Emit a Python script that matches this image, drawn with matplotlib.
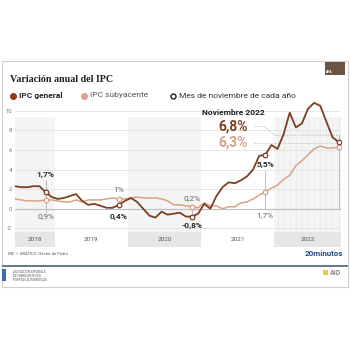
import matplotlib
matplotlib.use('Agg')
import matplotlib.pyplot as plt
from matplotlib.patches import Rectangle

# Monthly series, June 2018 .. November 2022
meses = ['jun-18', 'jul-18', 'ago-18', 'sep-18', 'oct-18', 'nov-18', 'dic-18',
         'ene-19', 'feb-19', 'mar-19', 'abr-19', 'may-19', 'jun-19', 'jul-19',
         'ago-19', 'sep-19', 'oct-19', 'nov-19', 'dic-19',
         'ene-20', 'feb-20', 'mar-20', 'abr-20', 'may-20', 'jun-20', 'jul-20',
         'ago-20', 'sep-20', 'oct-20', 'nov-20', 'dic-20',
         'ene-21', 'feb-21', 'mar-21', 'abr-21', 'may-21', 'jun-21', 'jul-21',
         'ago-21', 'sep-21', 'oct-21', 'nov-21', 'dic-21',
         'ene-22', 'feb-22', 'mar-22', 'abr-22', 'may-22', 'jun-22', 'jul-22',
         'ago-22', 'sep-22', 'oct-22', 'nov-22']

ipc_general = [2.3, 2.2, 2.2, 2.3, 2.3, 1.7, 1.2,
               1.0, 1.1, 1.3, 1.5, 0.8, 0.4, 0.5, 0.3, 0.1, 0.1, 0.4, 0.8,
               1.1, 0.7, 0.0, -0.7, -0.9, -0.3, -0.6, -0.5, -0.4, -0.8, -0.8, -0.5,
               0.5, 0.0, 1.3, 2.2, 2.7, 2.6, 2.9, 3.3, 4.0, 5.4, 5.5, 6.5,
               6.1, 7.6, 9.8, 8.3, 8.7, 10.2, 10.8, 10.5, 8.9, 7.3, 6.8]

ipc_subyacente = [1.0, 0.9, 0.8, 0.8, 0.8, 0.9, 0.9,
                  0.8, 0.7, 0.7, 0.9, 0.7, 0.9, 0.9, 0.9, 1.0, 1.1, 1.0, 1.0,
                  1.1, 1.2, 1.1, 1.1, 1.1, 1.0, 0.8, 0.4, 0.4, 0.3, 0.2, 0.1,
                  0.6, 0.3, 0.3, 0.0, 0.2, 0.2, 0.6, 0.7, 1.0, 1.4, 1.7, 2.1,
                  2.4, 3.0, 3.4, 4.4, 4.9, 5.5, 6.1, 6.4, 6.2, 6.2, 6.3]

years = ['2018', '2019', '2020', '2021', '2022']
yticks = [-2, 0, 2, 4, 6, 8, 10]

DARK = '#7b3f22'
LIGHT = '#dba189'
SANS = 'Roboto'

W = H = 350
fig = plt.figure(figsize=(3.5, 3.5), dpi=100)

# overlay in pixel coordinates for the card decorations
bg = fig.add_axes([0, 0, 1, 1])
bg.set_xlim(0, W)
bg.set_ylim(H, 0)
bg.axis('off')

bg.add_patch(Rectangle((2, 61), 346, 226, facecolor='white', edgecolor='#cfcfcf', lw=0.8))
bg.add_patch(Rectangle((325, 62), 20, 13, facecolor='#6b5544', edgecolor='none'))
bg.text(326, 73, 'AFA', fontsize=2.5, color='white', family=SANS, fontweight='bold')
bg.plot([3, 347], [266, 266], color='#4b5d75', lw=1.2)

bg.text(10, 80, 'Variación anual del IPC', fontsize=7.2, fontweight='bold',
        family='Liberation Serif', va='center', color='#1e1e1e')

# legend
bg.plot(13, 95.5, 'o', ms=4, color='#93391a')
bg.text(19, 95.5, 'IPC general', fontsize=6, fontweight='bold', family=SANS,
        va='center', color='#222222')
bg.plot(84, 95.5, 'o', ms=4, color='#e0a08a')
bg.text(90, 95.5, 'IPC subyacente', fontsize=6, family=SANS, va='center', color='#555555')
bg.plot(173, 95.5, 'o', ms=3.6, mfc='white', mec='#222222', mew=1.0)
bg.text(179, 95.5, 'Mes de noviembre de cada año', fontsize=6, family=SANS,
        va='center', color='#333333')

# footer
bg.text(8, 254, 'INE  |  GRÁFICO: Héctor de Pedro', fontsize=3, family=SANS,
        va='center', color='#555555')
bg.text(343, 254, '20minutos', fontsize=5.8, fontweight='bold', family=SANS,
        va='center', ha='right', color='#274a7a')
bg.add_patch(Rectangle((2, 269), 4, 12, facecolor='#3c6ea8', edgecolor='none'))
bg.text(13, 276, 'ASOCIACIÓN ESPAÑOLA\nDE FABRICANTES DE\nPUERTAS AUTOMÁTICAS',
        fontsize=2.2, family=SANS, va='center', color='#555555', linespacing=1.1)
bg.add_patch(Rectangle((323, 270), 5, 5, facecolor='#e8c84a', edgecolor='none'))
bg.text(330, 273, 'AID', fontsize=5, family=SANS, fontweight='bold', va='center',
        color='#8a8a8a')

# main chart
ax = fig.add_axes([15 / W, 1 - 247 / H, 326 / W, 151 / H])
ax.patch.set_alpha(0)
x = list(range(len(meses)))
xmax = 53.4
ax.set_xlim(0, xmax)
ax.set_ylim(-3.9, 11.5)
for s in ax.spines.values():
    s.set_visible(False)
ax.set_xticks([])
ax.set_yticks(yticks)
ax.set_yticklabels([str(t) for t in yticks], fontsize=4.2, color='#777777', family=SANS)
ax.tick_params(axis='y', length=0, pad=2)

# year bands
bounds = [0, 6.5, 18.5, 30.5, 42.5, xmax]
for k, yr in enumerate(years):
    x0, x1 = bounds[k], bounds[k + 1]
    if k % 2 == 0:
        ax.add_patch(Rectangle((x0, -2.4), x1 - x0, 11.8, facecolor='#f4f4f4',
                               edgecolor='none', zorder=0))
        ax.add_patch(Rectangle((x0, -3.9), x1 - x0, 1.5, facecolor='#e6e6e6',
                               edgecolor='none', zorder=0))
    ax.text((x0 + x1) / 2, -3.1, yr, fontsize=4.6, family=SANS, ha='center',
            va='center', color='#555555')

for i in range(43, 54):
    ax.plot([i, i], [-2.4, 9.4], color='#e9e9e9', lw=0.5, zorder=0.5)

for t in yticks:
    ax.axhline(t, color='#bdbdbd' if t == 0 else '#e2e2e2', lw=0.8 if t == 0 else 0.6,
               zorder=1)

ax.plot(x, ipc_subyacente, color=LIGHT, lw=1.1, zorder=3, solid_capstyle='round')
ax.plot(x, ipc_general, color=DARK, lw=1.3, zorder=4, solid_capstyle='round')

# November markers and labels
nov = [i for i, m in enumerate(meses) if m.startswith('nov')]
fmt = lambda v: ('%g' % v).replace('.', ',') + '%'
# (vertical guide range, general label y, core label y) per November
guides = [(-0.3, 2.9), (0.4, 1.0), (0.2, -0.8), (0, 3.9), (0, 7.5)]
gen_y = [3.5, -0.8, -1.7, 4.5, None]
core_y = [-0.8, 1.9, 1.1, -0.7, None]
for n, i in enumerate(nov):
    g0, g1 = guides[n]
    ax.plot([i, i], [g0, g1], color='#b5b5b5', lw=0.6, zorder=2)
    ax.plot(i, ipc_general[i], 'o', ms=3.3, mfc='white', mec=DARK, mew=0.9, zorder=6)
    ax.plot(i, ipc_subyacente[i], 'o', ms=3.3, mfc='white', mec=LIGHT, mew=0.9, zorder=5)
    if gen_y[n] is not None:
        ax.text(i, gen_y[n], fmt(ipc_general[i]), fontsize=6, fontweight='bold',
                family=SANS, ha='center', va='center', color='#2a2a2a', zorder=7)
        ax.text(i, core_y[n], fmt(ipc_subyacente[i]), fontsize=6, family=SANS,
                ha='center', va='center', color='#666666', zorder=7)

last = nov[-1]
ax.text(35.8, 9.85, 'Noviembre 2022', fontsize=6, fontweight='bold', family=SANS,
        ha='center', va='center', color='#1e1e1e')
ax.text(35.8, 8.4, fmt(ipc_general[last]), fontsize=10, fontweight='bold', family=SANS,
        ha='center', va='center', color=DARK)
ax.text(35.8, 6.75, fmt(ipc_subyacente[last]), fontsize=10, fontweight='bold', family=SANS,
        ha='center', va='center', color=LIGHT)
ax.plot([39.2, 40.8, 42.5, last], [8.4, 8.4, 7.5, 7.5], ls=':', color='#aaaaaa', lw=0.7,
        zorder=2)
ax.plot([39.2, last], [6.75, 6.75], ls=':', color='#bbbbbb', lw=0.7, zorder=2)

fig.savefig('out.png', dpi=100, facecolor='white')
